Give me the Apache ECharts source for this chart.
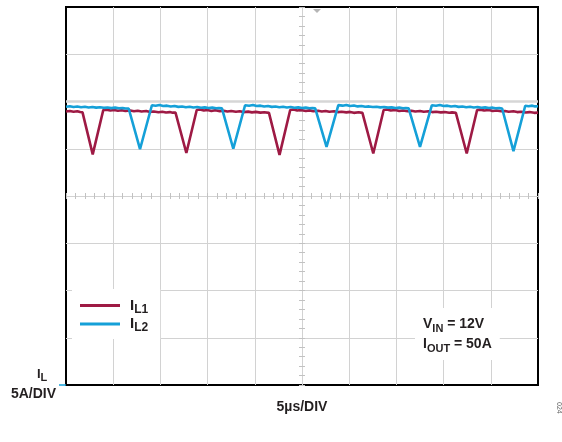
<!DOCTYPE html>
<html>
<head>
<meta charset="utf-8">
<script src="https://cdn.jsdelivr.net/npm/echarts@6/dist/echarts.min.js"></script>
<style>
  html, body { margin: 0; padding: 0; background: #fff; }
  #chart { width: 562px; height: 442px; }
</style>
</head>
<body>
<div id="chart"></div>
<script>
// ---- data (time in µs, current in A; 5 µs/div, 5 A/div) ----
const timeL1 = [0, 0.4, 0.8, 1.2, 1.5, 1.75, 2.83, 3.95, 4.3, 4.7, 5.1, 5.5, 5.9, 6.3, 6.8, 7.2, 7.6, 8.0, 8.5, 8.9, 9.3, 9.8, 10.2, 10.6, 11.0, 11.3,
  11.6, 12.75, 13.85, 14.2, 14.6, 15.0, 15.4, 15.8, 16.3, 16.7, 17.1, 17.5, 18.0, 18.4, 18.8, 19.3, 19.7, 20.1, 20.6, 21.0,
  21.5, 22.62, 23.75, 24.1, 24.5, 24.9, 25.4, 25.8, 26.2, 26.7, 27.1, 27.5, 27.9, 28.4, 28.8, 29.2, 29.7, 30.1, 30.5, 31.0,
  31.4, 32.55, 33.65, 34.0, 34.4, 34.9, 35.3, 35.7, 36.2, 36.6, 37.0, 37.5, 37.9, 38.4, 38.8, 39.2, 39.7, 40.1, 40.6, 40.9,
  41.3, 42.45, 43.55, 43.9, 44.3, 44.8, 45.2, 45.6, 46.1, 46.5, 46.9, 47.4, 47.8, 48.2, 48.7, 49.1, 49.6, 50.0];
const currentL1 = [28.95, 29.0, 28.92, 28.97, 28.88, 28.85, 24.4, 29.1, 29.14, 29.05, 29.1, 29.02, 29.08, 29.0, 29.05, 28.97, 29.02, 28.95, 28.99, 28.9, 28.95, 28.87, 28.92, 28.84, 28.88, 28.82,
  28.82, 24.55, 29.1, 29.15, 29.05, 29.1, 29.0, 29.07, 28.98, 29.03, 28.95, 29.0, 28.92, 28.96, 28.88, 28.93, 28.85, 28.9, 28.82, 28.86,
  28.8, 24.35, 29.1, 29.15, 29.04, 29.1, 29.0, 29.06, 28.97, 29.03, 28.95, 29.0, 28.92, 28.96, 28.88, 28.92, 28.85, 28.9, 28.8, 28.86,
  28.8, 24.5, 29.1, 29.15, 29.05, 29.1, 29.0, 29.05, 28.97, 29.02, 28.95, 29.0, 28.92, 28.96, 28.88, 28.92, 28.85, 28.88, 28.8, 28.85,
  28.8, 24.5, 29.1, 29.14, 29.04, 29.1, 29.0, 29.05, 28.96, 29.0, 28.92, 28.96, 28.88, 28.92, 28.84, 28.88, 28.8, 28.82];

const timeL2 = [0, 0.4, 0.8, 1.2, 1.6, 2.0, 2.4, 2.8, 3.2, 3.6, 4.0, 4.4, 4.8, 5.2, 5.6, 6.0, 6.3,
  6.64, 7.84, 9.1, 9.5, 9.9, 10.3, 10.7, 11.1, 11.5, 11.9, 12.3, 12.7, 13.1, 13.5, 13.9, 14.3, 14.7, 15.1, 15.5, 15.9, 16.2,
  16.52, 17.72, 18.97, 19.4, 19.8, 20.2, 20.6, 21.0, 21.4, 21.8, 22.2, 22.6, 23.0, 23.4, 23.8, 24.2, 24.6, 25.0, 25.4, 25.8, 26.1,
  26.4, 27.6, 28.85, 29.3, 29.7, 30.1, 30.5, 30.9, 31.3, 31.7, 32.1, 32.5, 32.9, 33.3, 33.7, 34.1, 34.5, 34.9, 35.3, 35.7, 36.0,
  36.3, 37.5, 38.75, 39.2, 39.6, 40.0, 40.4, 40.8, 41.2, 41.6, 42.0, 42.4, 42.8, 43.2, 43.6, 44.0, 44.4, 44.8, 45.2, 45.5, 45.9,
  46.2, 47.4, 48.65, 49.0, 49.4, 49.7, 50.0];
const currentL2 = [29.45, 29.5, 29.42, 29.47, 29.4, 29.44, 29.37, 29.42, 29.35, 29.4, 29.33, 29.37, 29.3, 29.35, 29.28, 29.32, 29.26,
  29.26, 24.95, 29.6, 29.55, 29.62, 29.52, 29.56, 29.47, 29.52, 29.43, 29.47, 29.4, 29.44, 29.37, 29.41, 29.34, 29.38, 29.31, 29.35, 29.28, 29.3,
  29.27, 25.0, 29.6, 29.55, 29.62, 29.52, 29.56, 29.47, 29.52, 29.43, 29.47, 29.4, 29.44, 29.37, 29.41, 29.34, 29.38, 29.31, 29.35, 29.28, 29.3,
  29.27, 25.2, 29.62, 29.56, 29.64, 29.53, 29.57, 29.48, 29.53, 29.44, 29.48, 29.41, 29.45, 29.38, 29.42, 29.35, 29.38, 29.32, 29.35, 29.28, 29.3,
  29.27, 25.2, 29.6, 29.55, 29.62, 29.52, 29.56, 29.47, 29.52, 29.43, 29.47, 29.4, 29.44, 29.37, 29.41, 29.34, 29.38, 29.31, 29.35, 29.28, 29.3,
  29.26, 24.75, 29.55, 29.5, 29.56, 29.48, 29.5];

const timeRange = [0, 50];       // µs, 10 divisions of 5 µs
const currentRange = [0, 40];    // A, 8 divisions of 5 A
const markerLevel = 30;          // highlighted graticule level (A)
const seriesNames = ['IL1', 'IL2'];
const xAxisName = '5µs/DIV';

const FONT = 'Liberation Sans, Arial, Helvetica, sans-serif';
const RED = '#9e1a44';
const BLUE = '#15a0d8';
const TXT = '#231f20';

function pairs(xs, ys) { return xs.map((x, i) => [x, ys[i]]); }

const chart = echarts.init(document.getElementById('chart'), null, { renderer: 'canvas' });

const subRich = {
  m: { fontSize: 15, fontWeight: 'bold', fontFamily: FONT, color: TXT, lineHeight: 20, padding: [0, 0, 0, 5] },
  s: { fontSize: 12, fontWeight: 'bold', fontFamily: FONT, color: TXT, verticalAlign: 'bottom' }
};

chart.setOption({
  animation: false,
  backgroundColor: '#fff',
  grid: { left: 66, top: 7, width: 472, height: 378, show: true, borderColor: '#000', borderWidth: 2, backgroundColor: 'transparent' },
  xAxis: [
    {
      type: 'value', min: timeRange[0], max: timeRange[1], interval: 5, position: 'bottom',
      name: xAxisName, nameLocation: 'middle', nameGap: 15,
      nameTextStyle: { fontSize: 14, fontWeight: 'bold', fontFamily: FONT, color: TXT },
      axisLine: { show: false, onZero: false }, axisTick: { show: false }, axisLabel: { show: false },
      splitLine: { show: true, showMinLine: false, showMaxLine: false, lineStyle: { color: '#d2d2d2', width: 1 } }
    },
    {
      // minor ticks along the centre horizontal graticule line
      type: 'value', min: timeRange[0], max: timeRange[1], interval: 1, position: 'bottom', offset: -192,
      axisLine: { show: false, onZero: false }, axisLabel: { show: false }, splitLine: { show: false },
      axisTick: { show: true, length: 6, lineStyle: { color: '#c2c2c2', width: 1 } }
    }
  ],
  yAxis: [
    {
      type: 'value', min: currentRange[0], max: currentRange[1], interval: 5, position: 'left',
      axisLine: { show: false, onZero: false }, axisTick: { show: false }, axisLabel: { show: false },
      splitLine: { show: true, showMinLine: false, showMaxLine: false, lineStyle: { color: '#d2d2d2', width: 1 } }
    },
    {
      // minor ticks along the centre vertical graticule line
      type: 'value', min: currentRange[0], max: currentRange[1], interval: 1, position: 'left', offset: -239,
      axisLine: { show: false, onZero: false }, axisLabel: { show: false }, splitLine: { show: false },
      axisTick: { show: true, length: 6, lineStyle: { color: '#c2c2c2', width: 1 } }
    }
  ],
  legend: {
    data: seriesNames,
    orient: 'vertical', left: 72, top: 289,
    padding: [9, 12, 5, 8], itemGap: 1,
    backgroundColor: '#fff',
    icon: 'rect', itemWidth: 40, itemHeight: 3,
    formatter: n => '{m|I}{s|' + n.slice(1) + '}',
    textStyle: { rich: subRich }
  },
  series: [
    {
      name: 'marker', type: 'line', silent: true, z: 1, symbol: 'none',
      data: pairs(timeRange, [markerLevel, markerLevel]),
      lineStyle: { color: '#d6d6d6', width: 2.5 }
    },
    {
      name: seriesNames[0], type: 'line', symbol: 'none', z: 3,
      data: pairs(timeL1, currentL1),
      lineStyle: { color: RED, width: 2.6 }, itemStyle: { color: RED }
    },
    {
      name: seriesNames[1], type: 'line', symbol: 'none', z: 4,
      data: pairs(timeL2, currentL2),
      lineStyle: { color: BLUE, width: 2.6 }, itemStyle: { color: BLUE }
    }
  ],
  graphic: [
    { type: 'polygon', shape: { points: [[313, 9], [321, 9], [317, 13]] }, style: { fill: '#b5b5b5' }, z: 10 },
    { type: 'line', shape: { x1: 59, y1: 385, x2: 66, y2: 385 }, style: { stroke: BLUE, lineWidth: 1.5 }, z: 10 },
    {
      type: 'text', x: 37, y: 366, z: 10,
      style: {
        text: '{m|I}{s|L}',
        rich: {
          m: { fontSize: 13, fontWeight: 'bold', fontFamily: FONT, fill: TXT, lineHeight: 17 },
          s: { fontSize: 11, fontWeight: 'bold', fontFamily: FONT, fill: TXT, verticalAlign: 'bottom' }
        }
      }
    },
    {
      type: 'text', x: 56, y: 394, z: 10,
      style: { text: '5A/DIV', fontSize: 14, fontWeight: 'bold', fontFamily: FONT, fill: TXT, align: 'right', verticalAlign: 'middle' }
    },
    {
      type: 'text', x: 415, y: 308, z: 10,
      style: {
        text: '{m|V}{s|IN}{m| = 12V}\n{m|I}{s|OUT}{m| = 50A}',
        backgroundColor: '#fff', padding: [6, 8, 6, 8],
        rich: {
          m: { fontSize: 14, fontWeight: 'bold', fontFamily: FONT, fill: TXT, lineHeight: 20 },
          s: { fontSize: 11, fontWeight: 'bold', fontFamily: FONT, fill: TXT, verticalAlign: 'bottom' }
        }
      }
    },
    {
      type: 'text', x: 559, y: 402, rotation: -Math.PI / 2, z: 10,
      style: { text: '024', fontSize: 7, fontFamily: FONT, fill: '#666', align: 'left', verticalAlign: 'middle' }
    }
  ]
});
</script>
</body>
</html>
